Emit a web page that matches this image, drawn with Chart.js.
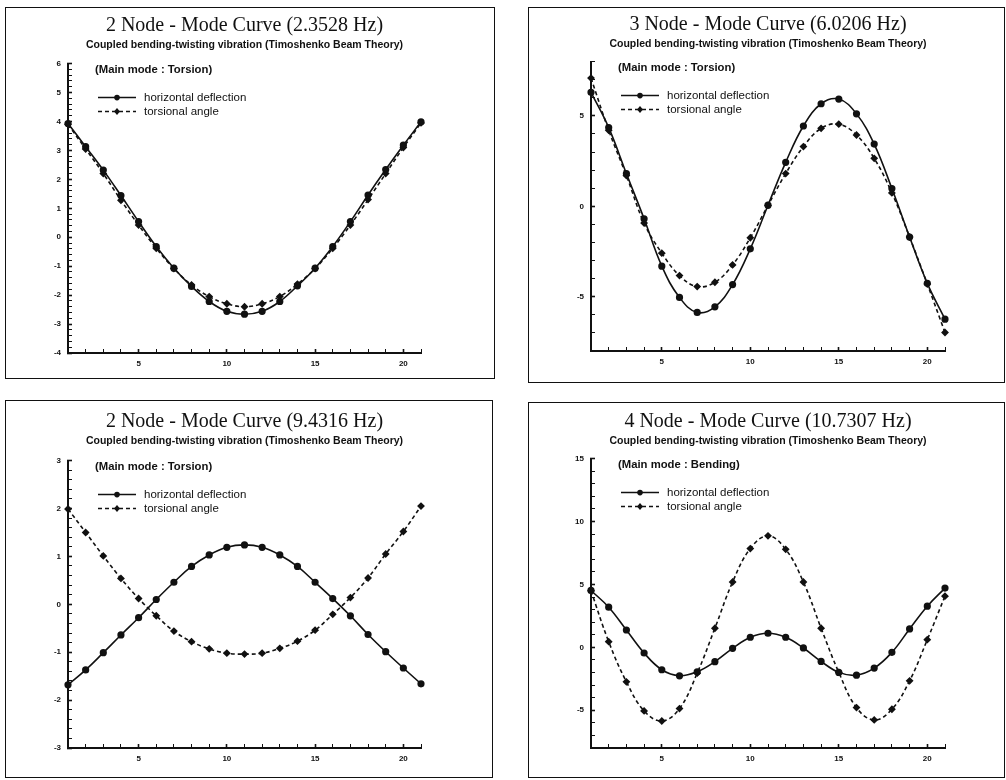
<!DOCTYPE html>
<html>
<head>
<meta charset="utf-8">
<title>Mode Curves</title>
<script src="https://cdn.jsdelivr.net/npm/chart.js@4.4.1/dist/chart.umd.min.js"></script>
<style>
  body { margin: 0; background: #fff; width: 1006px; height: 780px; position: relative; overflow: hidden; }
  .box { position: absolute; border: 1px solid #111; background: #fff; }
  .box canvas { display: block; }
</style>
</head>
<body>
<div class="box" style="left:5px;top:7px;width:488px;height:370px"><canvas id="c1" width="488" height="370"></canvas></div>
<div class="box" style="left:528px;top:7px;width:475px;height:374px"><canvas id="c2" width="475" height="374"></canvas></div>
<div class="box" style="left:5px;top:400px;width:486px;height:376px"><canvas id="c3" width="486" height="376"></canvas></div>
<div class="box" style="left:528px;top:402px;width:475px;height:374px"><canvas id="c4" width="475" height="374"></canvas></div>

<script>
// stations along the beam
var nodes = [1,2,3,4,5,6,7,8,9,10,11,12,13,14,15,16,17,18,19,20,21];
var xTickLabels = [5, 10, 15, 20];
var seriesNames = ['horizontal deflection', 'torsional angle'];
var subTitle = 'Coupled bending-twisting vibration (Timoshenko Beam Theory)';

// 2 node - 2.3528 Hz
var hd1 = [3.93, 3.13, 2.32, 1.44, 0.54, -0.32, -1.07, -1.70, -2.22, -2.56, -2.66, -2.56, -2.22, -1.68, -1.07, -0.32, 0.54, 1.46, 2.34, 3.18, 3.99];
var ta1 = [3.90, 3.05, 2.20, 1.28, 0.42, -0.38, -1.08, -1.65, -2.05, -2.30, -2.40, -2.30, -2.05, -1.62, -1.08, -0.38, 0.42, 1.30, 2.20, 3.10, 3.95];
var yLabels1 = [-4, -3, -2, -1, 0, 1, 2, 3, 4, 5, 6];

// 3 node - 6.0206 Hz
var hd2 = [6.30, 4.35, 1.81, -0.69, -3.31, -5.04, -5.87, -5.56, -4.33, -2.35, 0.06, 2.43, 4.44, 5.67, 5.93, 5.11, 3.44, 0.98, -1.70, -4.26, -6.24];
var ta2 = [7.09, 4.20, 1.70, -0.93, -2.59, -3.83, -4.44, -4.20, -3.24, -1.74, 0.05, 1.81, 3.30, 4.31, 4.54, 3.94, 2.65, 0.74, -1.70, -4.30, -6.98];
var yLabels2 = [-5, 0, 5];

// 2 node - 9.4316 Hz
var hd3 = [-1.68, -1.37, -1.01, -0.64, -0.28, 0.10, 0.46, 0.79, 1.03, 1.19, 1.24, 1.19, 1.03, 0.79, 0.46, 0.12, -0.24, -0.63, -0.99, -1.33, -1.66];
var ta3 = [1.99, 1.50, 1.01, 0.54, 0.12, -0.24, -0.56, -0.78, -0.93, -1.02, -1.04, -1.02, -0.92, -0.77, -0.54, -0.21, 0.14, 0.55, 1.05, 1.52, 2.05];
var yLabels3 = [-3, -2, -1, 0, 1, 2, 3];

// 4 node - 10.7307 Hz
var hd4 = [4.52, 3.19, 1.38, -0.45, -1.78, -2.26, -1.94, -1.14, -0.08, 0.80, 1.12, 0.80, -0.05, -1.12, -1.99, -2.21, -1.65, -0.40, 1.46, 3.27, 4.71];
var ta4 = [4.50, 0.45, -2.74, -5.05, -5.85, -4.87, -2.05, 1.52, 5.19, 7.85, 8.86, 7.79, 5.19, 1.52, -1.99, -4.79, -5.77, -4.92, -2.66, 0.61, 4.07];
var yLabels4 = [-5, 0, 5, 10, 15];

Chart.defaults.font.family = '"Liberation Sans", Arial, sans-serif';
Chart.defaults.color = '#111';

function pts(vals) {
    return nodes.map(function(n, i) { return {x: n, y: vals[i]}; });
}

function labelIf(list) {
    return function(v) {
        var r = Math.round(v);
        if (Math.abs(v - r) < 1e-6 && list.indexOf(r) >= 0) return String(r);
        return '';
    };
}

// legend + "Main mode" note drawn inside the plot area
var insideLegend = {
    id: 'insideLegend',
    afterDatasetsDraw: function(chart, args, opts) {
        var ctx = chart.ctx, a = chart.chartArea, x0 = a.left;
        ctx.save();
        ctx.fillStyle = '#111';
        ctx.strokeStyle = '#111';
        ctx.textBaseline = 'middle';
        ctx.font = 'bold 11.3px "Liberation Sans"';
        ctx.fillText(opts.note, x0 + 27, a.top + opts.noteY);
        ctx.font = '11.5px "Liberation Sans"';
        chart.data.datasets.forEach(function(ds, i) {
            var y = a.top + opts.legendY + i * 14;
            ctx.lineWidth = 1.5;
            ctx.setLineDash(ds.borderDash || []);
            ctx.beginPath();
            ctx.moveTo(x0 + 30, y);
            ctx.lineTo(x0 + 68, y);
            ctx.stroke();
            ctx.setLineDash([]);
            ctx.beginPath();
            if (ds.pointStyle === 'circle') {
                ctx.arc(x0 + 49, y, 2.8, 0, Math.PI * 2);
            } else {
                ctx.moveTo(x0 + 49, y - 3.5);
                ctx.lineTo(x0 + 52, y);
                ctx.lineTo(x0 + 49, y + 3.5);
                ctx.lineTo(x0 + 46, y);
                ctx.closePath();
            }
            ctx.fill();
            ctx.fillText(ds.label, x0 + 76, y);
        });
        ctx.restore();
    }
};

function makeChart(id, title, hd, ta, yMin, yMax, yStep, yLabels, note, lay) {
    var gridOpts = {
        drawOnChartArea: false,
        drawTicks: true,
        tickLength: -4,
        color: '#111',
        tickColor: '#111',
        tickWidth: function(c) { return c.tick && c.tick.label !== '' ? 1.6 : 1; }
    };
    return new Chart(document.getElementById(id), {
        type: 'line',
        data: {
            datasets: [{
                label: seriesNames[0],
                data: pts(hd),
                borderColor: '#111',
                backgroundColor: '#111',
                borderWidth: 1.6,
                pointStyle: 'circle',
                pointRadius: 2.8,
                pointBackgroundColor: '#111',
                tension: 0.4,
                clip: false
            }, {
                label: seriesNames[1],
                data: pts(ta),
                borderColor: '#111',
                backgroundColor: '#111',
                borderWidth: 1.6,
                borderDash: [4, 3],
                pointStyle: 'rectRot',
                pointRadius: 2.8,
                pointBackgroundColor: '#111',
                tension: 0.4,
                clip: false
            }]
        },
        options: {
            responsive: false,
            animation: false,
            layout: { padding: { left: lay.left, right: lay.right, top: 0, bottom: lay.bottom } },
            plugins: {
                legend: { display: false },
                tooltip: { enabled: false },
                title: {
                    display: true,
                    fullSize: false,
                    text: title,
                    color: '#111',
                    font: { family: '"Liberation Serif", "Times New Roman", serif', size: 20, weight: 'normal' },
                    padding: { top: lay.titleTop, bottom: 0 }
                },
                subtitle: {
                    display: true,
                    fullSize: false,
                    text: subTitle,
                    color: '#111',
                    font: { size: 10.5, weight: 'bold' },
                    padding: { top: 1, bottom: lay.subBottom }
                },
                insideLegend: { note: note, noteY: 6, legendY: 34 }
            },
            scales: {
                x: {
                    type: 'linear',
                    min: 1,
                    max: 21,
                    afterFit: function(s) { s.height = 20; },
                    border: { display: true, color: '#111', width: 2 },
                    grid: gridOpts,
                    ticks: {
                        stepSize: 1,
                        autoSkip: false,
                        maxRotation: 0,
                        padding: 10,
                        font: { size: 8, weight: 'bold' },
                        callback: labelIf(xTickLabels)
                    }
                },
                y: {
                    min: yMin,
                    max: yMax,
                    afterFit: function(s) { s.width = 30; },
                    border: { display: true, color: '#111', width: 2 },
                    grid: gridOpts,
                    ticks: {
                        stepSize: yStep,
                        autoSkip: false,
                        maxTicksLimit: 200,
                        padding: 11,
                        font: { size: 8, weight: 'bold' },
                        callback: labelIf(yLabels)
                    }
                }
            }
        },
        plugins: [insideLegend]
    });
}

makeChart('c1', '2 Node - Mode Curve (2.3528 Hz)', hd1, ta1, -4, 6, 0.2, yLabels1,
    '(Main mode : Torsion)', { left: 32, right: 73, bottom: 5, titleTop: 6, subBottom: 12 });
makeChart('c2', '3 Node - Mode Curve (6.0206 Hz)', hd2, ta2, -8, 8, 1, yLabels2,
    '(Main mode : Torsion)', { left: 32, right: 59, bottom: 11, titleTop: 5, subBottom: 11 });
makeChart('c3', '2 Node - Mode Curve (9.4316 Hz)', hd3, ta3, -3, 3, 0.2, yLabels3,
    '(Main mode : Torsion)', { left: 32, right: 71, bottom: 9, titleTop: 9, subBottom: 13 });
makeChart('c4', '4 Node - Mode Curve (10.7307 Hz)', hd4, ta4, -8, 15, 1, yLabels4,
    '(Main mode : Bending)', { left: 32, right: 59, bottom: 9, titleTop: 7, subBottom: 11 });
</script>
</body>
</html>
